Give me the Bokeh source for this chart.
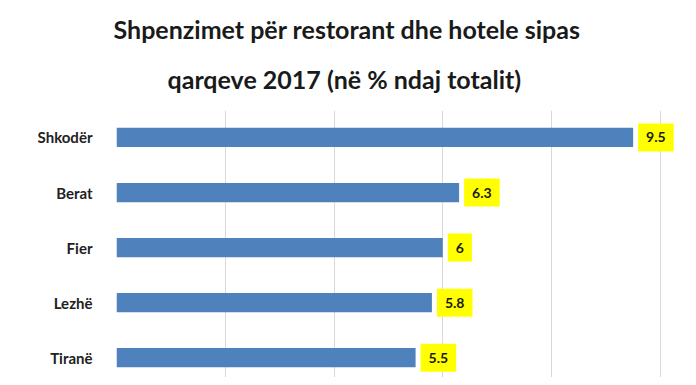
from bokeh.plotting import figure
from bokeh.models import Range1d, Title, ColumnDataSource, FixedTicker
from bokeh.core.properties import value
from bokeh.embed import file_html
from bokeh.resources import INLINE

regions = ["Shkodër", "Berat", "Fier", "Lezhë", "Tiranë"]
shares = [9.5, 6.3, 6.0, 5.8, 5.5]
share_labels = ["9.5", "6.3", "6", "5.8", "5.5"]
title_line1 = "Shpenzimet për restorant dhe hotele sipas"
title_line2 = "qarqeve 2017  (në % ndaj totalit)"
x_ticks = [0, 2, 4, 6, 8, 10]

positions = list(range(len(regions)))
src = ColumnDataSource(dict(pos=positions, share=shares, label=share_labels))

p = figure(width=688, height=377, output_backend="svg", toolbar_location=None,
           y_range=Range1d(4.36, -0.49),
           x_range=Range1d(0, 10.5), title=None,
           min_border_left=116, min_border_right=1, min_border_bottom=0,
           min_border_top=110)
p.outline_line_color = None
p.background_fill_color = "white"
p.border_fill_color = "white"

t2 = Title(text=title_line2, align="left", text_font="Lato",
           text_font_size="25px", text_font_style="bold",
           text_color="#1a1a1a", standoff=34, offset=51)
t1 = Title(text=title_line1, align="left", text_font="Lato",
           text_font_size="25px", text_font_style="bold",
           text_color="#1a1a1a", standoff=2, offset=-3)
p.add_layout(t2, "above")
p.add_layout(t1, "above")

p.hbar(y="pos", right="share", left=0, height=0.35, source=src,
       fill_color="#4F81BD", line_color=None)

p.text(x="share", y="pos", text="label", source=src, x_offset=5,
       text_align="left", text_baseline="middle", text_font=value("Lato"),
       text_font_size="14px", text_font_style="bold", text_color="#1a1a1a",
       background_fill_color="#FFFF00",
       padding={"left": 8, "right": 8, "top": 9, "bottom": 9})

p.xaxis.visible = False
p.xaxis.ticker = FixedTicker(ticks=x_ticks)
p.xgrid.ticker = FixedTicker(ticks=x_ticks)
p.xgrid.grid_line_color = "#d9d9d9"
p.ygrid.grid_line_color = None

p.yaxis.ticker = FixedTicker(ticks=positions)
p.yaxis.major_label_overrides = {i: r for i, r in zip(positions, regions)}
p.yaxis.axis_line_color = None
p.yaxis.major_tick_line_color = None
p.yaxis.minor_tick_line_color = None
p.yaxis.major_label_standoff = 18
p.yaxis.major_label_text_font = "Lato"
p.yaxis.major_label_text_font_style = "bold"
p.yaxis.major_label_text_font_size = "15px"
p.yaxis.major_label_text_color = "#222222"

open("out.html", "w").write(file_html(p, INLINE))
